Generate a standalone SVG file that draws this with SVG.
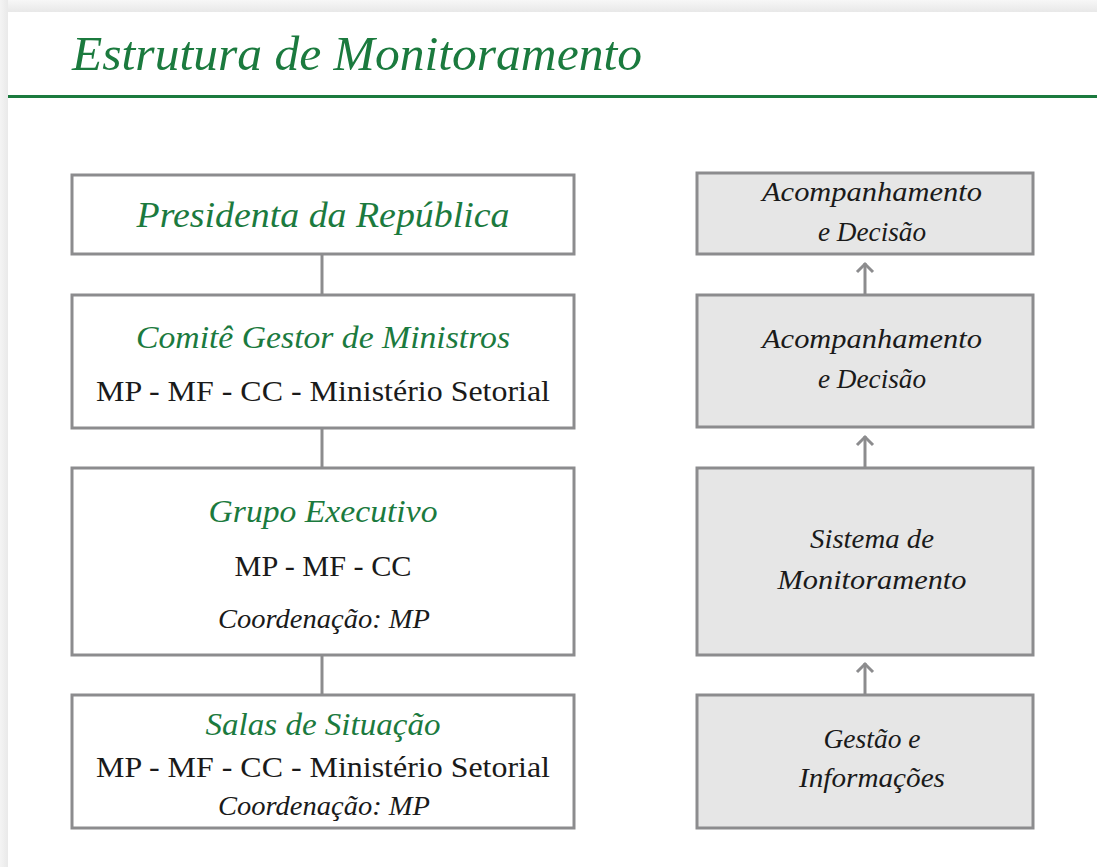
<svg xmlns="http://www.w3.org/2000/svg" width="1097" height="867" viewBox="0 0 1097 867">
<defs>
<linearGradient id="topg" x1="0" y1="0" x2="0" y2="1"><stop offset="0" stop-color="#f7f7f7"/><stop offset="1" stop-color="#e8e8e8"/></linearGradient>
<linearGradient id="leftg" x1="0" y1="0" x2="1" y2="0"><stop offset="0" stop-color="#f4f4f4"/><stop offset="1" stop-color="#e9e9e9"/></linearGradient>
<marker id="arr" markerWidth="20" markerHeight="20" refX="12" refY="10" orient="auto" markerUnits="userSpaceOnUse" viewBox="0 0 20 20">
<path d="M3,2 L11,10 L3,18" fill="none" stroke="#8c8c8e" stroke-width="3"/>
</marker>
</defs>
<style>
.box{fill:#ffffff;stroke:#8c8c8e;stroke-width:3}
.gbox{fill:#e6e6e6;stroke:#8c8c8e;stroke-width:3}
.conn{stroke:#8c8c8e;stroke-width:3;fill:none}
.g{font-style:italic;fill:#1b7a3e;text-anchor:middle}
.b{fill:#1a1a1a;text-anchor:middle}
.bi{font-style:italic;fill:#1a1a1a;text-anchor:middle}
</style>
<rect x="0" y="0" width="1097" height="867" fill="#ffffff"/>
<rect x="0" y="0" width="1097" height="12" fill="url(#topg)"/>
<rect x="0" y="0" width="8" height="867" fill="url(#leftg)"/>
<g font-family="'Liberation Serif', 'Times New Roman', serif">
<g id="title">
<text x="72" y="70" font-style="italic" font-size="48" fill="#1b7a3e" textLength="570" lengthAdjust="spacingAndGlyphs">Estrutura de Monitoramento</text>
<rect x="8" y="95" width="1089" height="3" fill="#1b7a3e"/>
</g>
<g id="connectors">
<line class="conn" x1="322" y1="254" x2="322" y2="295"/>
<line class="conn" x1="322" y1="428" x2="322" y2="468"/>
<line class="conn" x1="322" y1="655" x2="322" y2="695"/>
<line class="conn" x1="865" y1="295" x2="865" y2="263" marker-end="url(#arr)"/>
<line class="conn" x1="865" y1="468" x2="865" y2="436" marker-end="url(#arr)"/>
<line class="conn" x1="865" y1="695" x2="865" y2="663" marker-end="url(#arr)"/>
</g>
<g id="presidenta">
<rect class="box" x="72" y="175" width="502" height="79"/>
<text class="g" x="323" y="227" font-size="35" textLength="373" lengthAdjust="spacingAndGlyphs">Presidenta da República</text>
</g>
<g id="comite">
<rect class="box" x="72" y="295" width="502" height="133"/>
<text class="g" x="323" y="348" font-size="31" textLength="374" lengthAdjust="spacingAndGlyphs">Comitê Gestor de Ministros</text>
<text class="b" x="323" y="401" font-size="29" textLength="454" lengthAdjust="spacingAndGlyphs">MP - MF - CC - Ministério Setorial</text>
</g>
<g id="grupo">
<rect class="box" x="72" y="468" width="502" height="187"/>
<text class="g" x="323" y="522" font-size="31" textLength="229" lengthAdjust="spacingAndGlyphs">Grupo Executivo</text>
<text class="b" x="323" y="576" font-size="29" textLength="177" lengthAdjust="spacingAndGlyphs">MP - MF - CC</text>
<text class="bi" x="324" y="628" font-size="28" textLength="212" lengthAdjust="spacingAndGlyphs">Coordenação: MP</text>
</g>
<g id="salas">
<rect class="box" x="72" y="695" width="502" height="133"/>
<text class="g" x="323" y="735" font-size="31" textLength="235" lengthAdjust="spacingAndGlyphs">Salas de Situação</text>
<text class="b" x="323" y="777" font-size="29" textLength="454" lengthAdjust="spacingAndGlyphs">MP - MF - CC - Ministério Setorial</text>
<text class="bi" x="324" y="815" font-size="28" textLength="212" lengthAdjust="spacingAndGlyphs">Coordenação: MP</text>
</g>
<g id="acomp1">
<rect class="gbox" x="697" y="173" width="336" height="81"/>
<text class="bi" x="872" y="201" font-size="28" textLength="220" lengthAdjust="spacingAndGlyphs">Acompanhamento</text>
<text class="bi" x="872" y="241" font-size="28" textLength="108" lengthAdjust="spacingAndGlyphs">e Decisão</text>
</g>
<g id="acomp2">
<rect class="gbox" x="697" y="295" width="336" height="132"/>
<text class="bi" x="872" y="348" font-size="28" textLength="220" lengthAdjust="spacingAndGlyphs">Acompanhamento</text>
<text class="bi" x="872" y="388" font-size="28" textLength="108" lengthAdjust="spacingAndGlyphs">e Decisão</text>
</g>
<g id="sistema">
<rect class="gbox" x="697" y="468" width="336" height="187"/>
<text class="bi" x="872" y="548" font-size="28" textLength="124" lengthAdjust="spacingAndGlyphs">Sistema de</text>
<text class="bi" x="872" y="589" font-size="28" textLength="189" lengthAdjust="spacingAndGlyphs">Monitoramento</text>
</g>
<g id="gestao">
<rect class="gbox" x="697" y="695" width="336" height="133"/>
<text class="bi" x="872" y="748" font-size="28" textLength="97" lengthAdjust="spacingAndGlyphs">Gestão e</text>
<text class="bi" x="872" y="787" font-size="28" textLength="146" lengthAdjust="spacingAndGlyphs">Informações</text>
</g>
</g>
</svg>
